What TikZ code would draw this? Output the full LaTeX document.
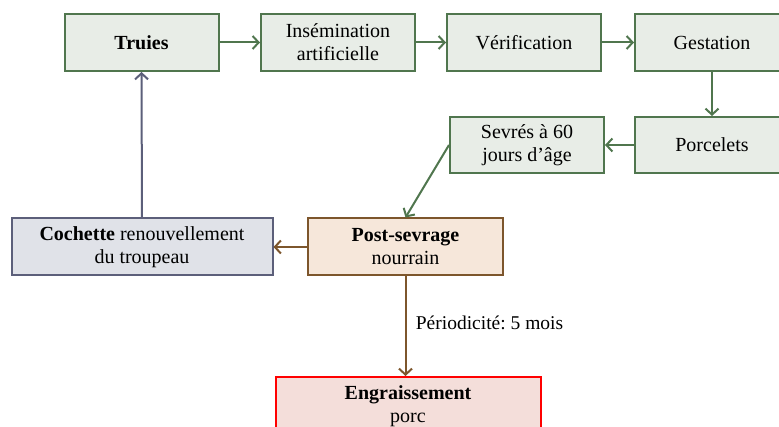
\documentclass[tikz,border=0pt]{standalone}
\usepackage{fontspec}
\setmainfont{Liberation Serif}
\frenchspacing
\usetikzlibrary{arrows.meta}
\definecolor{gbord}{RGB}{80,118,78}
\definecolor{gfill}{RGB}{232,237,231}
\definecolor{cbord}{RGB}{92,95,122}
\definecolor{cfill}{RGB}{224,226,232}
\definecolor{pbord}{RGB}{125,86,44}
\definecolor{pfill}{RGB}{246,231,218}
\definecolor{efill}{RGB}{244,222,218}
\definecolor{ebord}{RGB}{255,0,0}
\tikzset{
  box/.style={draw, line width=2pt, align=center, inner sep=2pt,
    font=\fontsize{20}{23}\selectfont, minimum height=57pt},
  gbox/.style={box, draw=gbord, fill=gfill, minimum width=154pt},
  garrow/.style={draw=gbord, line width=2pt, -{Straight Barb[length=6pt,width=13pt]}},
  carrow/.style={draw=cbord, line width=2pt, -{Straight Barb[length=6pt,width=13pt]}},
  parrow/.style={draw=pbord, line width=2pt, -{Straight Barb[length=6pt,width=13pt]}},
}
\begin{document}
\begin{tikzpicture}[x=1pt,y=-1pt]
\useasboundingbox (0,0) rectangle (779,427);
\clip (0,0) rectangle (779,427);
\node[gbox] (truies) at (141.5,42.5) {\textbf{Truies}};
\node[gbox] (insem) at (338,42.5) {Insémination\\artificielle};
\node[gbox] (verif) at (524,42.5) {Vérification};
\node[gbox] (gest) at (712,42.5) {Gestation};
\node[gbox, minimum height=56pt] (porc) at (712,145) {Porcelets};
\node[gbox, minimum height=56pt] (sevres) at (527,145) {Sevrés à 60\\jours d'âge};
\node[box, draw=cbord, fill=cfill, minimum width=261pt] (coch) at (142,247) {\textbf{Cochette} renouvellement\\du troupeau};
\node[box, draw=pbord, fill=pfill, minimum width=195pt] (post) at (405.5,247) {\textbf{Post-sevrage}\\nourrain};
\node[box, draw=ebord, fill=efill, minimum width=265pt, minimum height=59pt] (engr) at (408,406.5) {\textbf{Engraissement}\\porc};
\draw[garrow] (truies.east) -- (insem.west);
\draw[garrow] (insem.east) -- (verif.west);
\draw[garrow] (verif.east) -- (gest.west);
\draw[garrow] (gest.south) -- (porc.north);
\draw[garrow] (porc.west) -- (sevres.west -| sevres.east);
\draw[garrow] (sevres.west) -- (post.north);
\draw[parrow] (post.west) -- (coch.east);
\draw[carrow] (coch.north) -- (truies.south);
\draw[parrow] (post.south) -- node[right, xshift=6pt, yshift=3pt, font=\fontsize{19.5}{22}\selectfont] {Périodicité: 5 mois} (post.south |- engr.north);
\end{tikzpicture}
\end{document}
